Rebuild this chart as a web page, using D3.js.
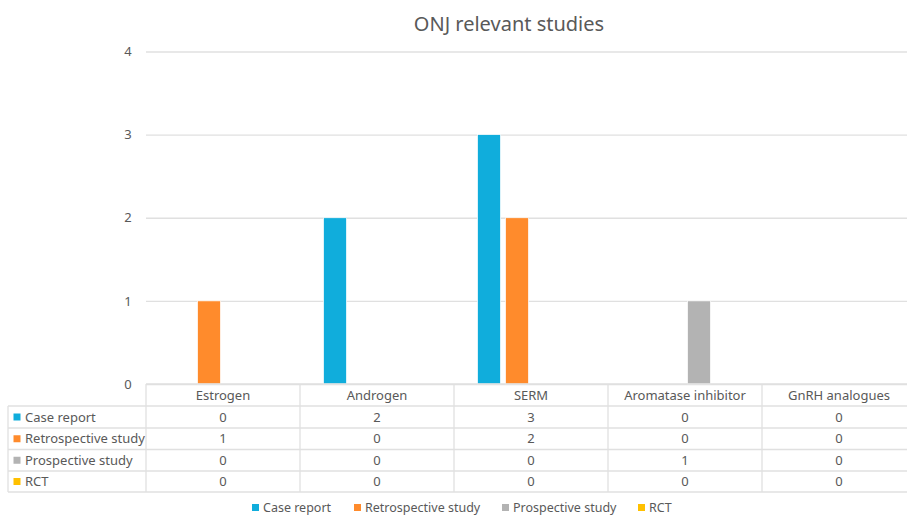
<!DOCTYPE html>
<html><head><meta charset="utf-8">
<script src="https://cdn.jsdelivr.net/npm/d3@7"></script>
<style>body{margin:0;background:#fff;} svg{display:block;font-family:"Noto Sans","Open Sans",sans-serif;}</style>
</head><body>
<svg id="c" width="907" height="516"></svg>
<script>
const title = "ONJ relevant studies";
const categories = ["Estrogen","Androgen","SERM","Aromatase inhibitor","GnRH analogues"];
const seriesNames = ["Case report","Retrospective study","Prospective study","RCT"];
const caseReport = [0,2,3,0,0];
const retrospective = [1,0,2,0,0];
const prospective = [0,0,0,1,0];
const rct = [0,0,0,0,0];
const yTicks = [0,1,2,3,4];
const colors = ["#10ADDC","#FF8B2C","#B3B3B3","#FFC000"];
const seriesValues = [caseReport, retrospective, prospective, rct];

const svg = d3.select("#c");
const textColor = "#595959";
const gridColor = "#E0E0E0";

const x = d3.scaleBand().domain(categories).range([146, 916]).padding(0);
const xs = d3.scaleBand().domain(seriesNames).range([0, x.bandwidth()]).paddingInner(0.18).paddingOuter(0.84);
const y = d3.scaleLinear().domain([0,4]).range([384, 51.5]);

// title
svg.append("text").attr("x", 509).attr("y", 31).attr("text-anchor","middle")
  .attr("font-size", 20).attr("fill", textColor).text(title);

// gridlines
const yAxis = d3.axisLeft(y).tickValues(yTicks).tickSize(-(916-146)).tickPadding(14).tickFormat(d3.format("d"));
const gy = svg.append("g").attr("transform","translate(146,0)").call(yAxis);
gy.select(".domain").remove();
gy.selectAll(".tick line").attr("stroke", gridColor).attr("stroke-width",1.3);
gy.selectAll(".tick text").attr("fill", textColor).attr("font-size", 13).attr("text-anchor","middle").attr("dx","-4")
  .attr("font-family","'Noto Sans',sans-serif");

// bars
seriesNames.forEach((s, si) => {
  svg.append("g").selectAll("rect").data(categories.map((c,i)=>({c, v: seriesValues[si][i]})).filter(d=>d.v>0))
    .join("rect")
    .attr("x", d => x(d.c) + xs(s))
    .attr("width", xs.bandwidth())
    .attr("y", d => y(d.v))
    .attr("height", d => y(0) - y(d.v))
    .attr("fill", colors[si])
    .attr("stroke","#fff").attr("stroke-width",0.7);
});

// data table
const rowTops = [384, 406, 428, 449.5, 471, 492];
const tbl = svg.append("g").attr("stroke", gridColor).attr("stroke-width", 1.3);
rowTops.forEach((ry, i) => {
  tbl.append("line").attr("x1", i === 0 ? 146 : 8).attr("x2", 916).attr("y1", ry).attr("y2", ry);
});
tbl.append("line").attr("x1", 8).attr("x2", 8).attr("y1", rowTops[1]).attr("y2", rowTops[5]);
categories.forEach(c => {
  tbl.append("line").attr("x1", x(c)).attr("x2", x(c)).attr("y1", rowTops[0]).attr("y2", rowTops[5]);
});
tbl.append("line").attr("x1", 916).attr("x2", 916).attr("y1", rowTops[0]).attr("y2", rowTops[5]);

const rowMid = i => (rowTops[i] + rowTops[i+1]) / 2;
svg.append("g").selectAll("text").data(categories).join("text")
  .attr("x", d => x(d) + x.bandwidth()/2).attr("y", rowMid(0)).attr("dy","0.35em")
  .attr("text-anchor","middle").attr("font-size", 13).attr("fill", textColor).text(d => d);
seriesNames.forEach((s, si) => {
  const g = svg.append("g");
  g.append("rect").attr("x", 13.5).attr("y", rowMid(si+1) - 3.5).attr("width", 7).attr("height", 7).attr("fill", colors[si]);
  g.append("text").attr("x", 25).attr("y", rowMid(si+1)).attr("dy","0.35em")
    .attr("font-size", 13).attr("fill", textColor).text(s);
  g.selectAll("text.v").data(seriesValues[si]).join("text").attr("class","v")
    .attr("x", (d,i) => x(categories[i]) + x.bandwidth()/2).attr("y", rowMid(si+1)).attr("dy","0.35em")
    .attr("text-anchor","middle").attr("font-size", 13).attr("fill", textColor).text(d => d);
});

// legend
const legendX = [252, 354, 502, 638];
seriesNames.forEach((s, si) => {
  const g = svg.append("g").attr("transform", `translate(${legendX[si]},507.5)`);
  g.append("rect").attr("x", 0).attr("y", -3.5).attr("width", 7).attr("height", 7).attr("fill", colors[si]);
  g.append("text").attr("x", 11).attr("y", 0).attr("dy","0.35em").attr("font-size", 12.5).attr("fill", textColor).text(s);
});
</script>
</body></html>
